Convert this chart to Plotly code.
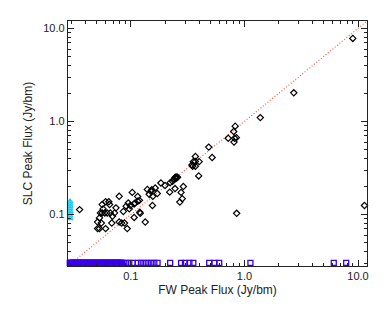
import plotly.graph_objects as go
import numpy as np

# Detections (FW peak flux, SLC peak flux) in Jy/bm
fw_det = [9.0, 2.72, 1.38, 0.83, 0.805, 0.72, 0.85, 0.82, 0.81, 0.485,
          0.52, 0.37, 0.355, 0.40, 0.37, 0.35, 0.37, 0.345, 0.396, 0.855,
          11.4, 0.29, 0.277, 0.284, 0.27, 0.25, 0.245, 0.25, 0.255, 0.24,
          0.258, 0.248, 0.233, 0.222, 0.20, 0.184, 0.245, 0.22, 0.164, 0.15,
          0.14, 0.153, 0.145, 0.156, 0.155, 0.171, 0.103, 0.115, 0.115, 0.119,
          0.121, 0.107, 0.134, 0.109, 0.12, 0.099, 0.095, 0.091, 0.086, 0.093,
          0.088, 0.083, 0.079, 0.074, 0.072, 0.068, 0.065, 0.064, 0.062, 0.056,
          0.059, 0.054, 0.053, 0.051, 0.055, 0.051, 0.053, 0.06, 0.06, 0.057,
          0.0354, 0.069, 0.097, 0.107, 0.056, 0.079, 0.066]
slc_det = [7.8, 2.03, 1.10, 0.89, 0.78, 0.66, 0.67, 0.66, 0.60, 0.53,
           0.41, 0.42, 0.37, 0.37, 0.372, 0.33, 0.33, 0.34, 0.26, 0.103,
           0.125, 0.20, 0.173, 0.148, 0.136, 0.254, 0.25, 0.245, 0.25, 0.24,
           0.252, 0.243, 0.227, 0.22, 0.205, 0.218, 0.19, 0.174, 0.193, 0.178,
           0.186, 0.185, 0.165, 0.157, 0.125, 0.168, 0.173, 0.156, 0.139, 0.142,
           0.103, 0.093, 0.083, 0.133, 0.106, 0.125, 0.133, 0.123, 0.108, 0.0706,
           0.081, 0.081, 0.157, 0.118, 0.104, 0.081, 0.128, 0.137, 0.104, 0.104,
           0.104, 0.104, 0.092, 0.083, 0.081, 0.0706, 0.0706, 0.0706, 0.137, 0.115,
           0.113, 0.096, 0.115, 0.13, 0.128, 0.083, 0.104]

# SLC non-detections (plotted at bottom): densely packed faint group
fw_only_dense_x = [0.0290, 0.0294, 0.0298, 0.0302, 0.0307, 0.0311, 0.0316, 0.0320,
                   0.0325, 0.0329, 0.0334, 0.0339, 0.0344, 0.0350, 0.0355, 0.0360,
                   0.0366, 0.0371, 0.0377, 0.0382, 0.0388, 0.0394, 0.0400, 0.0406,
                   0.0412, 0.0418, 0.0425, 0.0431, 0.0438, 0.0444, 0.0451, 0.0458,
                   0.0465, 0.0472, 0.0479, 0.0486, 0.0494, 0.0501, 0.0509, 0.0516,
                   0.0524, 0.0532, 0.0540, 0.0548, 0.0557, 0.0565, 0.0574, 0.0582,
                   0.0591, 0.0600, 0.0609, 0.0618, 0.0628, 0.0637, 0.0647, 0.0657,
                   0.0667, 0.0677, 0.0687, 0.0697, 0.0708, 0.0719, 0.0730, 0.0741,
                   0.0752, 0.0763, 0.0775, 0.0786, 0.0798, 0.0810, 0.0822]
fw_only_dense_y = [0.0303] * len(fw_only_dense_x)
# SLC non-detections: isolated ones
fw_only_x = [0.0834, 0.0847, 0.0906,
             0.097, 0.104, 0.115, 0.123, 0.132, 0.141, 0.151, 0.161, 0.172, 0.222,
             0.277, 0.30, 0.328, 0.355, 0.49, 0.545, 0.60, 1.13, 6.12, 7.87]
fw_only_y = [0.0303] * len(fw_only_x)

# FW non-detections (plotted at left edge)
slc_only_y = [0.091, 0.097, 0.103, 0.109, 0.116, 0.123, 0.130, 0.138]
slc_only_x = [0.0292] * len(slc_only_y)

# one-to-one line
line_xy = [0.028, 12.0]

tick_vals = [0.1, 1.0, 10.0]
tick_text = ["0.1", "1.0", "10.0"]
minor_vals = [0.03, 0.04, 0.05, 0.06, 0.07, 0.08, 0.09,
              0.2, 0.3, 0.4, 0.5, 0.6, 0.7, 0.8, 0.9,
              2, 3, 4, 5, 6, 7, 8, 9]

BLUE = "#3a00e8"

fig = go.Figure()
fig.add_trace(go.Scatter(x=line_xy, y=line_xy, mode="lines",
                         line=dict(color="#ff5a4a", dash="1px,2px", width=1.2),
                         showlegend=False, hoverinfo="skip"))
fig.add_trace(go.Scatter(x=fw_only_dense_x, y=fw_only_dense_y, mode="markers",
                         marker=dict(symbol="square", size=5,
                                     line=dict(color=BLUE, width=1.2),
                                     color=BLUE),
                         showlegend=False, cliponaxis=False))
fig.add_trace(go.Scatter(x=fw_only_x, y=fw_only_y, mode="markers",
                         marker=dict(symbol="square-open", size=5,
                                     line=dict(color=BLUE, width=1.3),
                                     color=BLUE),
                         showlegend=False, cliponaxis=False))
fig.add_trace(go.Scatter(x=slc_only_x, y=slc_only_y, mode="markers",
                         marker=dict(symbol="triangle-up-open", size=5,
                                     line=dict(color="#20c8f0", width=1.2),
                                     color="#20c8f0"),
                         showlegend=False, cliponaxis=False))
fig.add_trace(go.Scatter(x=fw_det, y=slc_det, mode="markers",
                         marker=dict(symbol="diamond-open", size=4.8,
                                     line=dict(color="black", width=1.2),
                                     color="black"),
                         showlegend=False, cliponaxis=False))

axis_common = dict(
    type="log",
    range=[np.log10(line_xy[0]), np.log10(line_xy[1])],
    tickvals=tick_vals, ticktext=tick_text,
    ticks="inside", ticklen=6, tickwidth=1, tickcolor="#222",
    showline=True, linecolor="#222", linewidth=1.3, mirror="allticks",
    showgrid=False, zeroline=False,
    tickfont=dict(family="Liberation Sans", size=11, color="#222"),
    minor=dict(tickvals=minor_vals, ticks="inside", ticklen=3,
               tickwidth=1, tickcolor="#222", showgrid=False),
)

fig.update_xaxes(**axis_common,
                 title=dict(text="FW Peak Flux (Jy/bm)", standoff=4,
                            font=dict(family="Liberation Sans", size=12, color="#222")))
fig.update_yaxes(**axis_common,
                 title=dict(text="SLC Peak Flux (Jy/bm)", standoff=8,
                            font=dict(family="Liberation Sans", size=12, color="#222")))

fig.update_layout(
    width=380, height=302,
    margin=dict(l=60, r=21, t=13, b=44),
    paper_bgcolor="white", plot_bgcolor="white",
)

fig.write_html("out.html")
